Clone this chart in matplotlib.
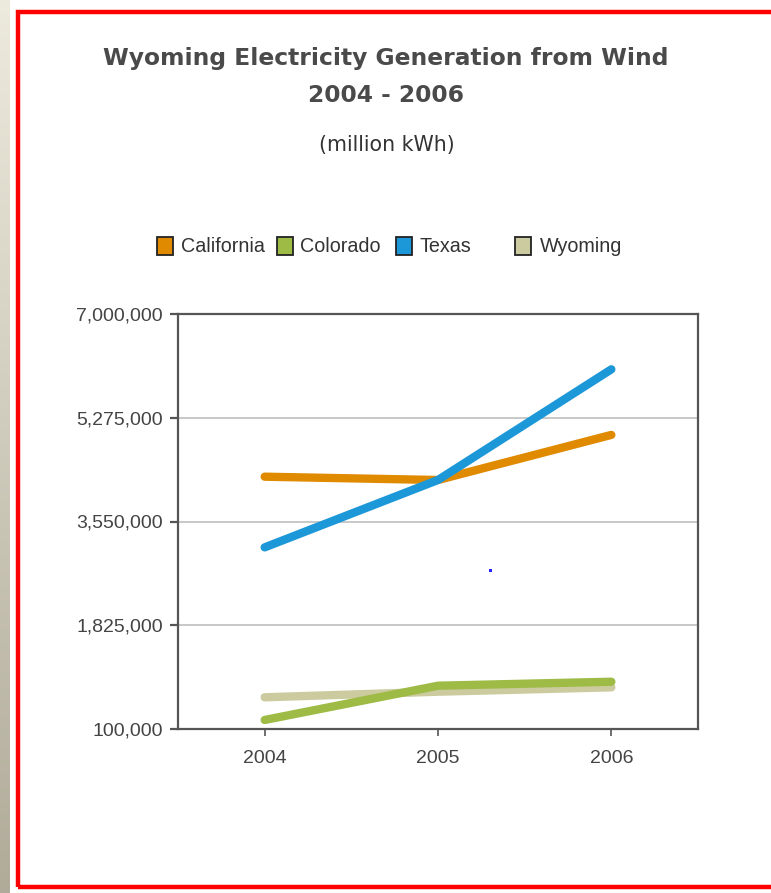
import matplotlib
matplotlib.use("Agg")
import matplotlib.pyplot as plt
import numpy as np
from matplotlib.patches import Rectangle
from matplotlib.ticker import FixedLocator, FuncFormatter

years = ["2004", "2005", "2006"]
series_names = ["California", "Colorado", "Texas", "Wyoming"]
california = [4295000, 4240000, 4990000]
colorado = [250000, 820000, 886000]
texas = [3120000, 4240000, 6080000]
wyoming = [627000, 720000, 793000]
yticks = [100000, 1825000, 3550000, 5275000, 7000000]
colors = ["#E08A00", "#9DBB45", "#1C98D9", "#CBCB9F"]

W, H = 771, 893
fig = plt.figure(figsize=(W / 100, H / 100), dpi=100)
fig.patch.set_facecolor("white")

# left beige gradient strip
strip = fig.add_axes([0, 0, 10 / W, 1])
grad = np.linspace(0, 1, 256).reshape(-1, 1)
top = np.array([0.93, 0.92, 0.87])
bot = np.array([0.69, 0.67, 0.60])
img = top[None, None, :] * (1 - grad[:, :, None]) + bot[None, None, :] * grad[:, :, None]
strip.imshow(img, aspect="auto", extent=[0, 1, 0, 1])
strip.axis("off")

# red frame
fig.patches.append(Rectangle((18 / W, (H - 887) / H), (W + 20) / W, (887 - 12) / H,
                             transform=fig.transFigure, fill=False, edgecolor="#FF0000",
                             linewidth=3.2, zorder=5))

ax = fig.add_axes([178 / W, (H - 729) / H, 520 / W, 415 / H])
x = np.arange(len(years))
data = [california, colorado, texas, wyoming]
order = [3, 1, 0, 2]
for z, i in enumerate(order):
    ax.plot(x, data[i], color=colors[i], linewidth=6.0, solid_capstyle="round",
            solid_joinstyle="round", zorder=3 + z)

ax.set_xlim(-0.5, 2.5)
ax.set_ylim(100000, 7000000)
ax.yaxis.set_major_locator(FixedLocator(yticks))
ax.yaxis.set_major_formatter(FuncFormatter(lambda v, p: f"{int(round(v)):,}"))
ax.set_xticks(x)
ax.set_xticklabels(years)
ax.grid(axis="y", color="#C8C8C8", linewidth=1.4, zorder=1)
ax.set_axisbelow(True)
for s in ax.spines.values():
    s.set_color("#555555")
    s.set_linewidth(1.6)
ax.tick_params(axis="y", direction="out", length=6, width=1.6, color="#555555",
               labelsize=14, labelcolor="#444444", pad=5)
ax.tick_params(axis="x", direction="out", length=5, width=1.2, color="#555555",
               labelsize=14, labelcolor="#444444", pad=10)
for lab in ax.get_xticklabels() + ax.get_yticklabels():
    lab.set_family(["Liberation Sans", "DejaVu Sans"])

# title
tfam = ["DejaVu Sans"]
fig.text(386 / W, 1 - 58 / H, "Wyoming Electricity Generation from Wind", ha="center", va="center",
         fontsize=16.8, fontweight="bold", color="#4A4A4A", family=tfam)
fig.text(386 / W, 1 - 96 / H, "2004 - 2006", ha="center", va="center",
         fontsize=16.8, fontweight="bold", color="#4A4A4A", family=tfam)
fig.text(387 / W, 1 - 145 / H, "(million kWh)", ha="center", va="center",
         fontsize=14.8, color="#333333", family=tfam)

# legend
leg_sq_x = [157, 277, 396, 515]
leg_tx_x = [181, 300, 420, 540]
ly = 246
for name, c, sx, tx in zip(series_names, colors, leg_sq_x, leg_tx_x):
    fig.patches.append(Rectangle((sx / W, (H - ly - 9) / H), 16 / W, 18 / H,
                                 transform=fig.transFigure, facecolor=c,
                                 edgecolor="#222222", linewidth=1.3))
    fig.text(tx / W, 1 - ly / H, name, ha="left", va="center", fontsize=14.2,
             color="#333333", family=["Liberation Sans", "DejaVu Sans"])

# small blue artifact dot
fig.patches.append(Rectangle((489 / W, (H - 572) / H), 3 / W, 3 / H,
                             transform=fig.transFigure, facecolor="#2222FF", edgecolor="none"))

fig.savefig("out.png", dpi=100)
